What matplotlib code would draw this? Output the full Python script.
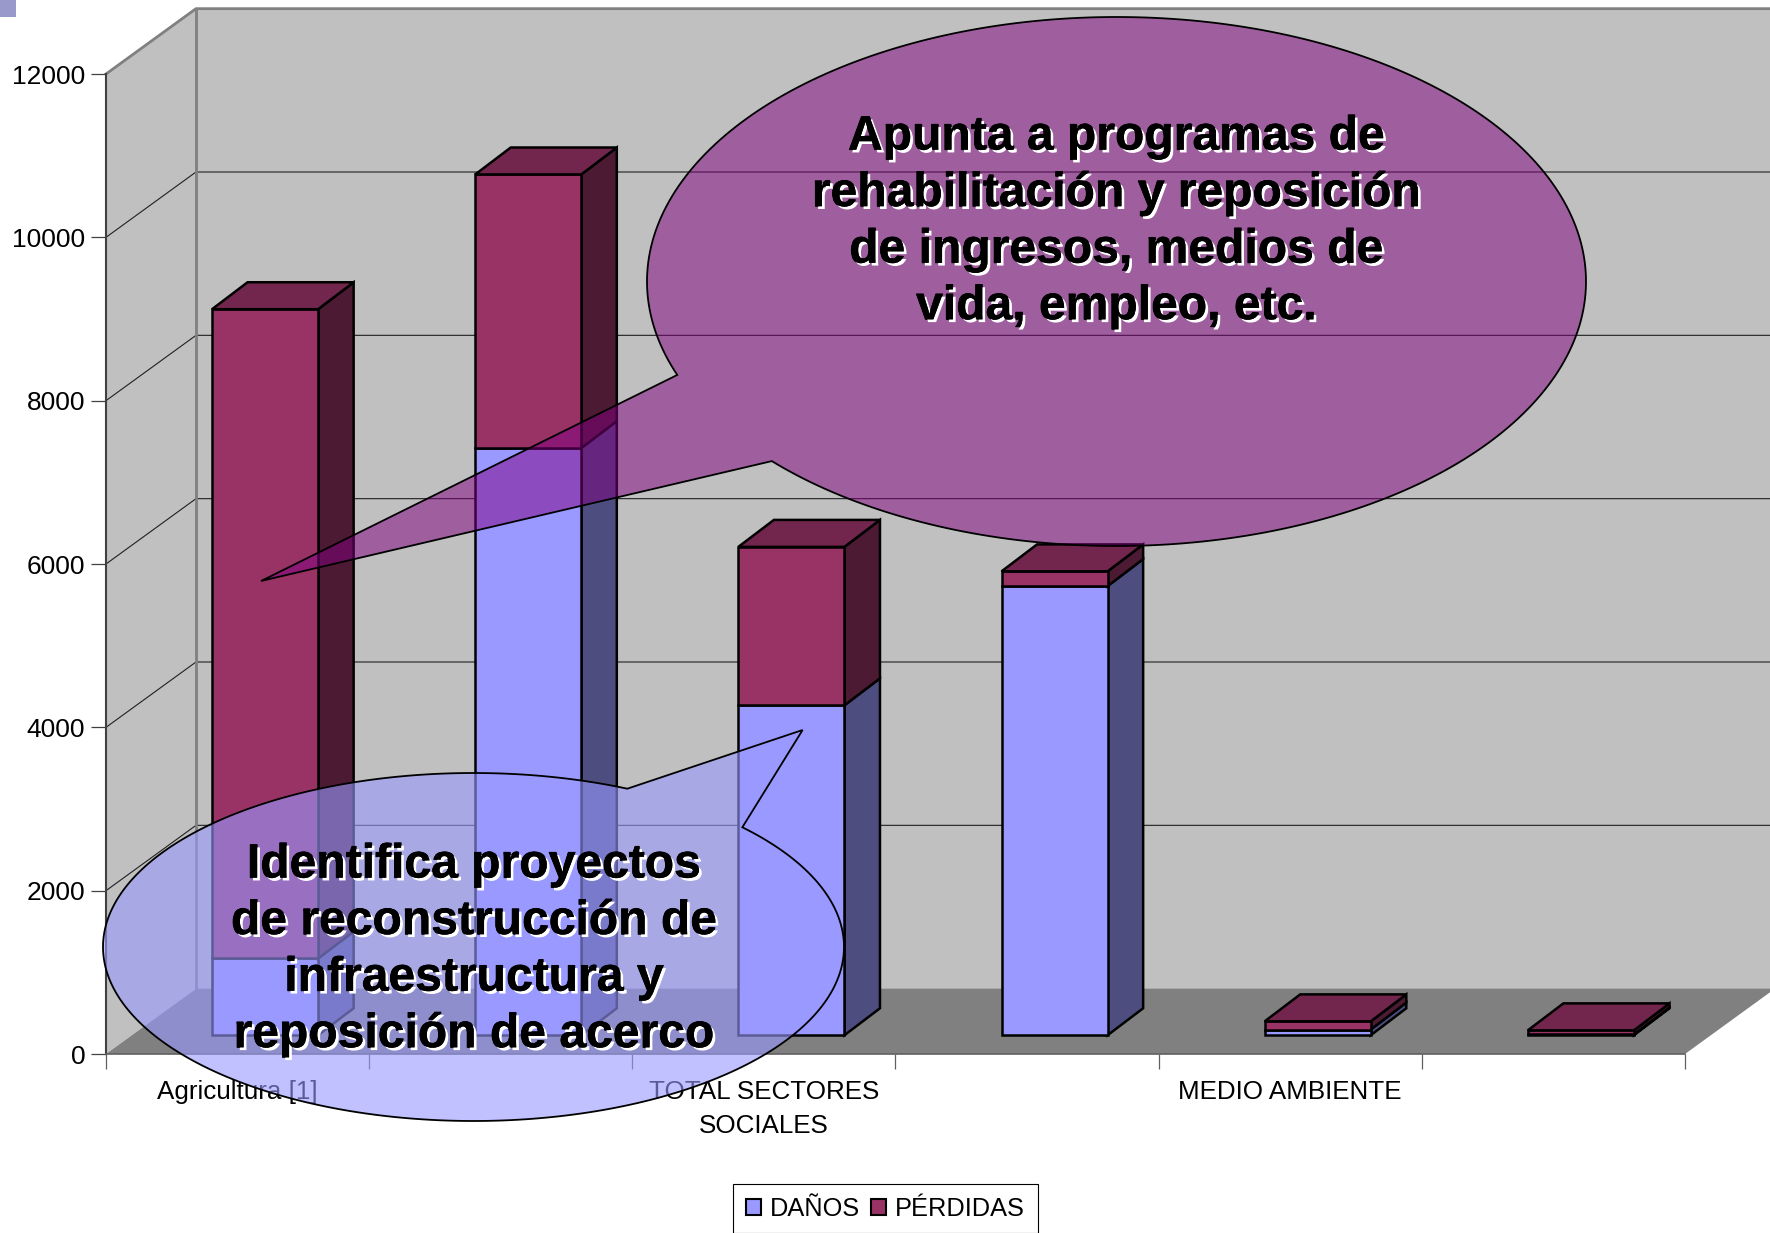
import numpy as np
import matplotlib
matplotlib.use("Agg")
import matplotlib.pyplot as plt
import matplotlib.patheffects as pe
from matplotlib.patches import Polygon, Patch, Rectangle

plt.rcParams['font.family'] = ['Liberation Sans', 'DejaVu Sans']

# values
categories = ["Agricultura [1]", "", "TOTAL SECTORES\nSOCIALES", "", "MEDIO AMBIENTE", ""]
danos = [940, 7190, 4040, 5500, 70, 10]
perdidas = [7950, 3350, 1940, 180, 100, 50]
y_ticks = [0, 2000, 4000, 6000, 8000, 10000, 12000]

text_purple = "Apunta a programas de\nrehabilitación y reposición\nde ingresos, medios de\nvida, empleo, etc."
text_blue = "Identifica proyectos\nde reconstrucción de\ninfraestructura y\nreposición de acerco"

W, H = 1770, 1233
fig = plt.figure(figsize=(W / 100, H / 100), dpi=100, facecolor="white")

# front plane of the 3d box
ax = fig.add_axes([106 / W, (H - 1054) / H, 1579 / W, 980 / H])
ax.set_xlim(0, 6)
ax.set_ylim(0, 12000)
ax.patch.set_visible(False)

DEPTH_X = 0.342
DEPTH_Y = 800


def poly(target, pts, fc, ec="none", lw=0, z=1, alpha=None):
    p = Polygon(pts, closed=True, facecolor=fc, edgecolor=ec, linewidth=lw,
                zorder=z, clip_on=False, alpha=alpha, joinstyle="miter")
    target.add_patch(p)
    return p


# walls and floor
poly(ax, [(DEPTH_X, DEPTH_Y), (DEPTH_X + 6, DEPTH_Y), (DEPTH_X + 6, 12000 + DEPTH_Y),
          (DEPTH_X, 12000 + DEPTH_Y)], "#C0C0C0", z=0.2)
poly(ax, [(0, 0), (DEPTH_X, DEPTH_Y), (DEPTH_X, 12000 + DEPTH_Y), (0, 12000)], "#C0C0C0", z=0.2)
poly(ax, [(0, 0), (6, 0), (6 + DEPTH_X, DEPTH_Y), (DEPTH_X, DEPTH_Y)], "#808080", z=0.3)

for v in y_ticks[1:-1]:
    ax.plot([0, DEPTH_X, DEPTH_X + 6], [v, v + DEPTH_Y, v + DEPTH_Y], color="#202020", lw=0.8,
            zorder=0.4, clip_on=False)
ax.plot([0, DEPTH_X, DEPTH_X + 6], [12000, 12000 + DEPTH_Y, 12000 + DEPTH_Y], color="#808080",
        lw=2, zorder=0.5, clip_on=False)
ax.plot([DEPTH_X, DEPTH_X], [DEPTH_Y, 12000 + DEPTH_Y], color="#808080", lw=2, zorder=0.5,
        clip_on=False)

# stacked 3d bars
BAR_W = 0.403
BAR_DX = 0.135
BAR_DY = 330
BASE_Y = 230
BAR_X = 0.305 + 0.098
EDGE = 1.8


def box(x0, x1, y0, y1, front, side, z):
    poly(ax, [(x1, y0), (x1 + BAR_DX, y0 + BAR_DY), (x1 + BAR_DX, y1 + BAR_DY), (x1, y1)],
         side, "black", EDGE, z)
    poly(ax, [(x0, y0), (x1, y0), (x1, y1), (x0, y1)], front, "black", EDGE, z + 0.01)


for i in range(len(categories)):
    x0 = i + BAR_X
    x1 = x0 + BAR_W
    y1 = BASE_Y + danos[i]
    y2 = y1 + perdidas[i]
    z = 3 + i
    box(x0, x1, BASE_Y, y1, "#9999FF", "#4D4D80", z)
    box(x0, x1, y1, y2, "#993366", "#4D1A33", z + 0.1)
    poly(ax, [(x0, y2), (x1, y2), (x1 + BAR_DX, y2 + BAR_DY), (x0 + BAR_DX, y2 + BAR_DY)],
         "#73264D", "black", EDGE, z + 0.2)

# axes
for s in ["top", "right"]:
    ax.spines[s].set_visible(False)
ax.spines["left"].set_color("#404040")
ax.spines["left"].set_linewidth(1.5)
ax.spines["bottom"].set_color("#606060")
ax.spines["bottom"].set_linewidth(1.2)
ax.set_yticks(y_ticks)
ax.set_yticklabels([str(v) for v in y_ticks], fontsize=19)
ax.set_xticks(range(7))
ax.set_xticklabels([])
ax.set_xticks(np.arange(6) + 0.5, minor=True)
ax.set_xticklabels(categories, minor=True, fontsize=18.7, linespacing=1.55)
ax.tick_params(axis="y", length=11, width=0.9, color="#404040", pad=4)
ax.tick_params(axis="x", which="major", length=11, width=0.9, color="#606060")
ax.tick_params(axis="x", which="minor", length=0, pad=18.5)

# legend
handles = [Patch(facecolor="#9999FF", edgecolor="black", lw=1.5, label="DAÑOS"),
           Patch(facecolor="#993366", edgecolor="black", lw=1.5, label="PÉRDIDAS")]
leg = fig.legend(handles=handles, loc="upper left", bbox_to_anchor=(733 / W, 1 - 1184 / H), ncols=2,
                 fontsize=18.3, fancybox=False, edgecolor="black", framealpha=1,
                 handlelength=0.62, handleheight=0.62, handletextpad=0.35, columnspacing=0.4,
                 borderpad=0.5, borderaxespad=0)
leg.get_frame().set_linewidth(0.8)

# callouts go on top of everything, in picture coordinates
over = fig.add_axes([0, 0, 1, 1], zorder=10)
over.set_xlim(0, W)
over.set_ylim(H, 0)
over.axis("off")


def callout(cx, cy, rx, ry, start, tip, end, color, alpha):
    a0 = np.arctan2((start[1] - cy) / ry, (start[0] - cx) / rx)
    a1 = np.arctan2((end[1] - cy) / ry, (end[0] - cx) / rx)
    # go the long way round, from end of the tail to its start
    if a0 < a1:
        a0 += 2 * np.pi
    t = np.linspace(a1, a0, 300)
    if a0 - a1 < np.pi:
        t = np.linspace(a1, a0 - 2 * np.pi, 300)
    pts = list(zip(cx + rx * np.cos(t), cy + ry * np.sin(t))) + [tip]
    poly(over, pts, color, "none", 0, 1, alpha)
    poly(over, pts, "none", "black", 1.3, 1.1)


callout(1116.5, 281.5, 469.5, 264.5, (677, 375), (261, 581), (772, 461), "#800080", 0.5)
callout(473.5, 947, 370.5, 174, (627, 789), (802.6, 730), (743, 827), "#9999FF", 0.6)

shadow = [pe.Stroke(linewidth=0.6, foreground="black"),
          pe.withSimplePatchShadow(offset=(2, -2), shadow_rgbFace="white", alpha=1),
          pe.Normal()]
for (x, y, s) in [(1116.5, 222, text_purple), (474, 950, text_blue)]:
    over.text(x, y, s, ha="center", va="center", fontsize=34.6, fontweight="bold", color="black",
              linespacing=1.33, path_effects=shadow, zorder=5)

# small square in the corner
over.add_patch(Rectangle((0, 0), 16, 17, facecolor="#9999CC", edgecolor="none"))

fig.savefig("out.png", dpi=100)
